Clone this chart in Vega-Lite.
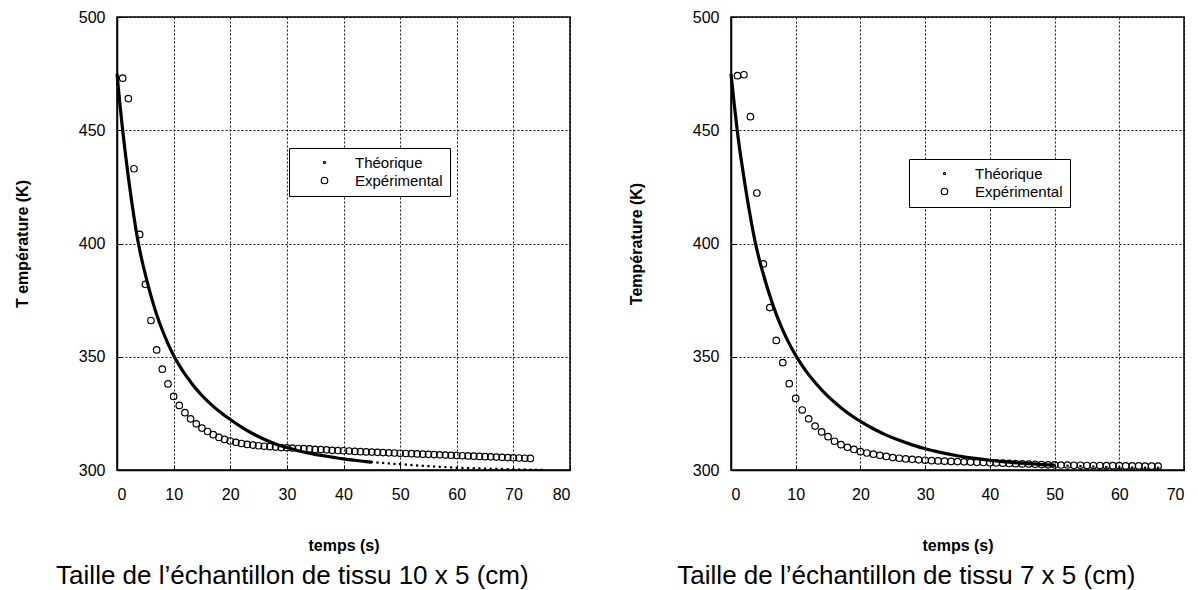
{
  "$schema": "https://vega.github.io/schema/vega-lite/v6.json",
  "padding": {"left": 13, "top": 8, "right": 0, "bottom": 0},
  "spacing": 55,
  "config": {
    "font": "Liberation Sans",
    "view": {"stroke": "black", "strokeWidth": 1.5},
    "axis": {
      "domainColor": "black", "domainWidth": 1.5,
      "tickColor": "black", "tickSize": -5, "tickWidth": 1,
      "labelFont": "Liberation Sans", "labelFontSize": 16, "labelColor": "black",
      "titleFont": "Liberation Sans", "titleFontSize": 16, "titleFontWeight": "bold", "titleColor": "black",
      "grid": true, "gridColor": "black", "gridDash": [2, 2], "gridWidth": 1, "gridOpacity": 0.9
    },
    "axisX": {"labelPadding": 21, "titlePadding": 35},
    "axisY": {"labelPadding": 17, "titlePadding": 48},
    "legend": {"labelFont": "Liberation Sans", "labelFontSize": 15, "labelColor": "black"}
  },
  "datasets": {
    "expL": [
      {"temps":1,"temperature":473,"serie":"Expérimental"},{"temps":2,"temperature":464,"serie":"Expérimental"},{"temps":3,"temperature":433,"serie":"Expérimental"},{"temps":4,"temperature":404,"serie":"Expérimental"},{"temps":5,"temperature":382,"serie":"Expérimental"},{"temps":6,"temperature":366,"serie":"Expérimental"},{"temps":7,"temperature":353,"serie":"Expérimental"},{"temps":8,"temperature":344.5,"serie":"Expérimental"},{"temps":9,"temperature":338,"serie":"Expérimental"},{"temps":10,"temperature":332.5,"serie":"Expérimental"},
      {"temps":11,"temperature":328.5,"serie":"Expérimental"},{"temps":12,"temperature":325.3,"serie":"Expérimental"},{"temps":13,"temperature":322.6,"serie":"Expérimental"},{"temps":14,"temperature":320.4,"serie":"Expérimental"},{"temps":15,"temperature":318.5,"serie":"Expérimental"},{"temps":16,"temperature":317,"serie":"Expérimental"},{"temps":17,"temperature":315.6,"serie":"Expérimental"},{"temps":18,"temperature":314.4,"serie":"Expérimental"},{"temps":19,"temperature":313.5,"serie":"Expérimental"},{"temps":20,"temperature":312.8,"serie":"Expérimental"},
      {"temps":21,"temperature":312.2,"serie":"Expérimental"},{"temps":22,"temperature":311.7,"serie":"Expérimental"},{"temps":23,"temperature":311.3,"serie":"Expérimental"},{"temps":24,"temperature":311,"serie":"Expérimental"},{"temps":25,"temperature":310.7,"serie":"Expérimental"},{"temps":26,"temperature":310.5,"serie":"Expérimental"},{"temps":27,"temperature":310.3,"serie":"Expérimental"},{"temps":28,"temperature":310.1,"serie":"Expérimental"},{"temps":29,"temperature":309.9,"serie":"Expérimental"},{"temps":30,"temperature":309.8,"serie":"Expérimental"},
      {"temps":31,"temperature":309.7,"serie":"Expérimental"},{"temps":32,"temperature":309.5,"serie":"Expérimental"},{"temps":33,"temperature":309.4,"serie":"Expérimental"},{"temps":34,"temperature":309.3,"serie":"Expérimental"},{"temps":35,"temperature":309.1,"serie":"Expérimental"},{"temps":36,"temperature":309,"serie":"Expérimental"},{"temps":37,"temperature":308.9,"serie":"Expérimental"},{"temps":38,"temperature":308.7,"serie":"Expérimental"},{"temps":39,"temperature":308.6,"serie":"Expérimental"},{"temps":40,"temperature":308.5,"serie":"Expérimental"},
      {"temps":41,"temperature":308.4,"serie":"Expérimental"},{"temps":42,"temperature":308.2,"serie":"Expérimental"},{"temps":43,"temperature":308.1,"serie":"Expérimental"},{"temps":44,"temperature":308,"serie":"Expérimental"},{"temps":45,"temperature":307.9,"serie":"Expérimental"},{"temps":46,"temperature":307.8,"serie":"Expérimental"},{"temps":47,"temperature":307.7,"serie":"Expérimental"},{"temps":48,"temperature":307.6,"serie":"Expérimental"},{"temps":49,"temperature":307.5,"serie":"Expérimental"},{"temps":50,"temperature":307.4,"serie":"Expérimental"},
      {"temps":51,"temperature":307.3,"serie":"Expérimental"},{"temps":52,"temperature":307.2,"serie":"Expérimental"},{"temps":53,"temperature":307.1,"serie":"Expérimental"},{"temps":54,"temperature":307,"serie":"Expérimental"},{"temps":55,"temperature":306.9,"serie":"Expérimental"},{"temps":56,"temperature":306.8,"serie":"Expérimental"},{"temps":57,"temperature":306.7,"serie":"Expérimental"},{"temps":58,"temperature":306.6,"serie":"Expérimental"},{"temps":59,"temperature":306.5,"serie":"Expérimental"},{"temps":60,"temperature":306.4,"serie":"Expérimental"},
      {"temps":61,"temperature":306.3,"serie":"Expérimental"},{"temps":62,"temperature":306.2,"serie":"Expérimental"},{"temps":63,"temperature":306.1,"serie":"Expérimental"},{"temps":64,"temperature":306,"serie":"Expérimental"},{"temps":65,"temperature":305.9,"serie":"Expérimental"},{"temps":66,"temperature":305.8,"serie":"Expérimental"},{"temps":67,"temperature":305.7,"serie":"Expérimental"},{"temps":68,"temperature":305.6,"serie":"Expérimental"},{"temps":69,"temperature":305.5,"serie":"Expérimental"},{"temps":70,"temperature":305.4,"serie":"Expérimental"},
      {"temps":71,"temperature":305.3,"serie":"Expérimental"},{"temps":72,"temperature":305.2,"serie":"Expérimental"},{"temps":73,"temperature":305.1,"serie":"Expérimental"}
    ],
    "theoL": [
      {"temps":0,"temperature":475},{"temps":0.5,"temperature":462},{"temps":1,"temperature":450},{"temps":1.5,"temperature":439.3},{"temps":2,"temperature":429.3},{"temps":2.5,"temperature":420.2},{"temps":3,"temperature":411.7},{"temps":3.5,"temperature":403.9},{"temps":4,"temperature":397.3},{"temps":4.5,"temperature":391.5},{"temps":5,"temperature":386.4},
      {"temps":6,"temperature":376.9},{"temps":7,"temperature":368.7},{"temps":8,"temperature":361.8},{"temps":9,"temperature":355.8},{"temps":10,"temperature":350.6},{"temps":11,"temperature":346.2},{"temps":12,"temperature":342.3},{"temps":13,"temperature":338.9},{"temps":14,"temperature":335.7},{"temps":15,"temperature":332.9},
      {"temps":16,"temperature":330.4},{"temps":17,"temperature":328.1},{"temps":18,"temperature":326},{"temps":19,"temperature":324.1},{"temps":20,"temperature":322.3},{"temps":22,"temperature":318.9},{"temps":24,"temperature":316},{"temps":26,"temperature":313.6},{"temps":28,"temperature":311.5},{"temps":30,"temperature":309.9},
      {"temps":32,"temperature":308.5},{"temps":35,"temperature":306.9},{"temps":38,"temperature":305.7},{"temps":40,"temperature":304.9},{"temps":42,"temperature":304.3},{"temps":44,"temperature":303.7},{"temps":45,"temperature":303.5},{"temps":46,"temperature":303.3},{"temps":47,"temperature":303.1},{"temps":48,"temperature":302.9},
      {"temps":49,"temperature":302.7},{"temps":50,"temperature":302.6},{"temps":51,"temperature":302.4},{"temps":52,"temperature":302.2},{"temps":53,"temperature":302},{"temps":54,"temperature":301.85},{"temps":55,"temperature":301.7},{"temps":56,"temperature":301.55},{"temps":57,"temperature":301.4},{"temps":58,"temperature":301.3},
      {"temps":59,"temperature":301.15},{"temps":60,"temperature":301},{"temps":61,"temperature":300.9},{"temps":62,"temperature":300.8},{"temps":63,"temperature":300.75},{"temps":64,"temperature":300.7},{"temps":65,"temperature":300.6},{"temps":66,"temperature":300.55},{"temps":67,"temperature":300.5},{"temps":68,"temperature":300.45},
      {"temps":69,"temperature":300.4},{"temps":70,"temperature":300.3},{"temps":71,"temperature":300.25},{"temps":72,"temperature":300.2},{"temps":73,"temperature":300.15},{"temps":74,"temperature":300.1},{"temps":75,"temperature":300.05}
    ],
    "expR": [
      {"temps":1,"temperature":474.1,"serie":"Expérimental"},{"temps":2,"temperature":474.5,"serie":"Expérimental"},{"temps":3,"temperature":456,"serie":"Expérimental"},{"temps":4,"temperature":422.3,"serie":"Expérimental"},{"temps":5,"temperature":391,"serie":"Expérimental"},{"temps":6,"temperature":371.7,"serie":"Expérimental"},{"temps":7,"temperature":357.2,"serie":"Expérimental"},{"temps":8,"temperature":347.4,"serie":"Expérimental"},{"temps":9,"temperature":338.1,"serie":"Expérimental"},{"temps":10,"temperature":331.6,"serie":"Expérimental"},
      {"temps":11,"temperature":326.5,"serie":"Expérimental"},{"temps":12,"temperature":322.6,"serie":"Expérimental"},{"temps":13,"temperature":319.4,"serie":"Expérimental"},{"temps":14,"temperature":316.8,"serie":"Expérimental"},{"temps":15,"temperature":314.7,"serie":"Expérimental"},{"temps":16,"temperature":312.7,"serie":"Expérimental"},{"temps":17,"temperature":311.2,"serie":"Expérimental"},{"temps":18,"temperature":310,"serie":"Expérimental"},{"temps":19,"temperature":309.1,"serie":"Expérimental"},{"temps":20,"temperature":308.1,"serie":"Expérimental"},
      {"temps":21,"temperature":307.5,"serie":"Expérimental"},{"temps":22,"temperature":307,"serie":"Expérimental"},{"temps":23,"temperature":306.5,"serie":"Expérimental"},{"temps":24,"temperature":306,"serie":"Expérimental"},{"temps":25,"temperature":305.5,"serie":"Expérimental"},{"temps":26,"temperature":305.2,"serie":"Expérimental"},{"temps":27,"temperature":304.9,"serie":"Expérimental"},{"temps":28,"temperature":304.7,"serie":"Expérimental"},{"temps":29,"temperature":304.5,"serie":"Expérimental"},{"temps":30,"temperature":304.3,"serie":"Expérimental"},
      {"temps":31,"temperature":304.1,"serie":"Expérimental"},{"temps":32,"temperature":304,"serie":"Expérimental"},{"temps":33,"temperature":303.9,"serie":"Expérimental"},{"temps":34,"temperature":303.8,"serie":"Expérimental"},{"temps":35,"temperature":303.7,"serie":"Expérimental"},{"temps":36,"temperature":303.6,"serie":"Expérimental"},{"temps":37,"temperature":303.5,"serie":"Expérimental"},{"temps":38,"temperature":303.4,"serie":"Expérimental"},{"temps":39,"temperature":303.3,"serie":"Expérimental"},{"temps":40,"temperature":303.2,"serie":"Expérimental"},
      {"temps":41,"temperature":303.1,"serie":"Expérimental"},{"temps":42,"temperature":303,"serie":"Expérimental"},{"temps":43,"temperature":302.9,"serie":"Expérimental"},{"temps":44,"temperature":302.8,"serie":"Expérimental"},{"temps":45,"temperature":302.7,"serie":"Expérimental"},{"temps":46,"temperature":302.6,"serie":"Expérimental"},{"temps":47,"temperature":302.5,"serie":"Expérimental"},{"temps":48,"temperature":302.4,"serie":"Expérimental"},{"temps":49,"temperature":302.3,"serie":"Expérimental"},{"temps":50,"temperature":302.3,"serie":"Expérimental"},
      {"temps":51,"temperature":302.2,"serie":"Expérimental"},{"temps":52,"temperature":302.2,"serie":"Expérimental"},{"temps":53,"temperature":302.1,"serie":"Expérimental"},{"temps":54,"temperature":302.1,"serie":"Expérimental"},{"temps":55,"temperature":302,"serie":"Expérimental"},{"temps":56,"temperature":302,"serie":"Expérimental"},{"temps":57,"temperature":302,"serie":"Expérimental"},{"temps":58,"temperature":301.9,"serie":"Expérimental"},{"temps":59,"temperature":301.9,"serie":"Expérimental"},{"temps":60,"temperature":301.9,"serie":"Expérimental"},
      {"temps":61,"temperature":301.8,"serie":"Expérimental"},{"temps":62,"temperature":301.8,"serie":"Expérimental"},{"temps":63,"temperature":301.8,"serie":"Expérimental"},{"temps":64,"temperature":301.7,"serie":"Expérimental"},{"temps":65,"temperature":301.7,"serie":"Expérimental"},{"temps":66,"temperature":301.7,"serie":"Expérimental"}
    ],
    "theoR": [
      {"temps":0,"temperature":475},{"temps":0.5,"temperature":461.5},{"temps":1,"temperature":449},{"temps":1.5,"temperature":438.5},{"temps":2,"temperature":429},{"temps":2.5,"temperature":420},{"temps":3,"temperature":411.7},{"temps":3.5,"temperature":404},{"temps":4,"temperature":397.3},{"temps":4.5,"temperature":391.5},{"temps":5,"temperature":386.4},
      {"temps":6,"temperature":376.9},{"temps":7,"temperature":368.7},{"temps":8,"temperature":361.8},{"temps":9,"temperature":355.8},{"temps":10,"temperature":350.6},{"temps":11,"temperature":346.1},{"temps":12,"temperature":342.1},{"temps":13,"temperature":338.6},{"temps":14,"temperature":335.4},{"temps":15,"temperature":332.5},
      {"temps":16,"temperature":329.9},{"temps":17,"temperature":327.5},{"temps":18,"temperature":325.3},{"temps":19,"temperature":323.3},{"temps":20,"temperature":321.5},{"temps":22,"temperature":318.2},{"temps":24,"temperature":315.4},{"temps":26,"temperature":313.1},{"temps":28,"temperature":311.1},{"temps":30,"temperature":309.4},
      {"temps":32,"temperature":308},{"temps":35,"temperature":306.3},{"temps":38,"temperature":305},{"temps":40,"temperature":304.3},{"temps":42,"temperature":303.7},{"temps":45,"temperature":303},{"temps":48,"temperature":302.4},{"temps":50,"temperature":302.1},{"temps":52,"temperature":301.9},{"temps":54,"temperature":301.7},
      {"temps":56,"temperature":301.5},{"temps":58,"temperature":301.3},{"temps":60,"temperature":301.2},{"temps":62,"temperature":301.1},{"temps":64,"temperature":301},{"temps":66,"temperature":300.9}
    ]
  },
  "hconcat": [
    {
      "width": 453, "height": 453,
      "title": {"text": "Taille de l’échantillon de tissu 10 x 5 (cm)", "orient": "bottom", "anchor": "middle", "frame": "bounds", "fontSize": 26, "fontWeight": "normal", "font": "Liberation Sans", "color": "black", "offset": 10},
      "encoding": {
        "x": {"field": "temps", "type": "quantitative", "scale": {"domain": [0, 80], "nice": false}, "axis": {"values": [0,10,20,30,40,50,60,70,80], "title": "temps (s)"}},
        "y": {"field": "temperature", "type": "quantitative", "scale": {"domain": [300, 500], "nice": false, "zero": false}, "axis": {"values": [300,350,400,450,500], "title": "T empérature (K)"}}
      },
      "layer": [
        {"data": {"name": "theoL"}, "transform": [{"filter": "datum.temps <= 45"}], "mark": {"type": "line", "color": "black", "strokeWidth": 3.2, "interpolate": "monotone"}},
        {"data": {"name": "theoL"}, "transform": [{"filter": "datum.temps >= 45"}], "mark": {"type": "point", "shape": "square", "filled": true, "color": "black", "size": 5, "opacity": 1}},
        {"data": {"name": "expL"}, "mark": {"type": "point", "filled": false, "color": "black", "strokeWidth": 1.2, "opacity": 1},
         "encoding": {"size": {"field": "serie", "type": "ordinal", "scale": {"domain": ["Théorique", "Expérimental"], "range": [4, 42]},
           "legend": {"title": null, "orient": "none", "legendX": 172, "legendY": 131, "padding": 7, "symbolOffset": 21, "labelOffset": 23, "rowPadding": 2, "strokeColor": "black", "symbolStrokeColor": "black", "symbolStrokeWidth": 1.2, "symbolType": "circle", "fillColor": "white",
             "encode": {"legend": {"update": {"strokeWidth": {"value": 2}}}}}}}}
      ]
    },
    {
      "width": 453, "height": 453,
      "title": {"text": "Taille de l’échantillon de tissu 7 x 5 (cm)", "orient": "bottom", "anchor": "middle", "frame": "bounds", "fontSize": 26, "fontWeight": "normal", "font": "Liberation Sans", "color": "black", "offset": 10},
      "encoding": {
        "x": {"field": "temps", "type": "quantitative", "scale": {"domain": [0, 70], "nice": false}, "axis": {"values": [0,10,20,30,40,50,60,70], "title": "temps (s)"}},
        "y": {"field": "temperature", "type": "quantitative", "scale": {"domain": [300, 500], "nice": false, "zero": false}, "axis": {"values": [300,350,400,450,500], "title": "Température (K)"}}
      },
      "layer": [
        {"data": {"name": "theoR"}, "transform": [{"filter": "datum.temps <= 50"}], "mark": {"type": "line", "color": "black", "strokeWidth": 3.2, "interpolate": "monotone"}},
        {"data": {"name": "theoR"}, "transform": [{"filter": "datum.temps >= 50"}], "mark": {"type": "point", "shape": "square", "filled": true, "color": "black", "size": 5, "opacity": 1}},
        {"data": {"name": "expR"}, "mark": {"type": "point", "filled": false, "color": "black", "strokeWidth": 1.2, "opacity": 1},
         "encoding": {"size": {"field": "serie", "type": "ordinal", "scale": {"domain": ["Théorique", "Expérimental"], "range": [4, 42]},
           "legend": {"title": null, "orient": "none", "legendX": 178, "legendY": 142, "padding": 7, "symbolOffset": 21, "labelOffset": 23, "rowPadding": 2, "strokeColor": "black", "symbolStrokeColor": "black", "symbolStrokeWidth": 1.2, "symbolType": "circle", "fillColor": "white",
             "encode": {"legend": {"update": {"strokeWidth": {"value": 2}}}}}}}}
      ]
    }
  ],
  "resolve": {"scale": {"size": "independent"}, "legend": {"size": "independent"}}
}
